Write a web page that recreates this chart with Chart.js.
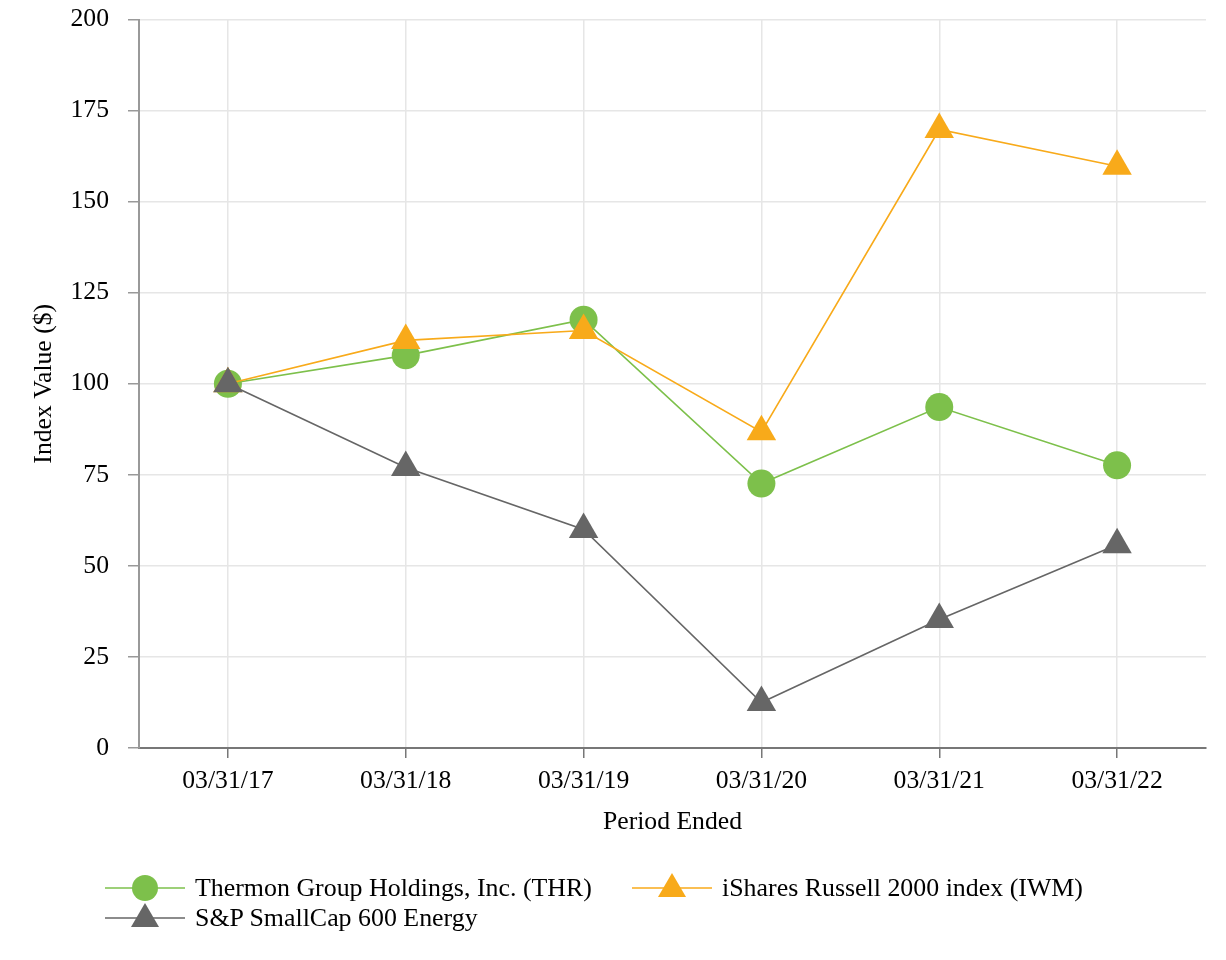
<!DOCTYPE html>
<html>
<head>
<meta charset="utf-8">
<script src="https://cdn.jsdelivr.net/npm/chart.js@4/dist/chart.umd.min.js"></script>
<style>
  html, body { margin:0; padding:0; background:#fff; }
  #wrap { position:relative; width:1226px; height:960px; }
  #c { position:absolute; left:0; top:0; }
  .leg { position:absolute; display:flex; align-items:center; font-family:"Liberation Serif","Times New Roman",serif; font-size:25.9px; color:#000; white-space:nowrap; }
  .leg svg { margin-right:10px; }
</style>
</head>
<body>
<div id="wrap">
  <canvas id="c" width="1226" height="960"></canvas>
</div>
<script>
const categories = ['03/31/17', '03/31/18', '03/31/19', '03/31/20', '03/31/21', '03/31/22'];
const thrValues = [100, 107.8, 117.6, 72.6, 93.6, 77.6];
const iwmValues = [100, 111.9, 114.6, 86.8, 169.8, 159.7];
const energyValues = [100, 77, 60, 12.5, 35.3, 55.8];
const seriesNames = ['Thermon Group Holdings, Inc. (THR)', 'iShares Russell 2000 index (IWM)', 'S&P SmallCap 600 Energy'];
const yTicks = [0, 25, 50, 75, 100, 125, 150, 175, 200];

const GREEN = '#7dc04b', ORANGE = '#f8aa1a', GRAY = '#666666';
const FONT = { family: '"Liberation Serif", "Times New Roman", serif', size: 25.7 };

new Chart(document.getElementById('c'), {
  type: 'line',
  data: {
    labels: categories,
    datasets: [
      { label: seriesNames[0], data: thrValues, borderColor: GREEN, backgroundColor: GREEN, borderWidth: 1.6,
        pointStyle: 'circle', pointRadius: 14, pointBorderWidth: 0, pointBackgroundColor: GREEN, order: 2, tension: 0 },
      { label: seriesNames[1], data: iwmValues, borderColor: ORANGE, backgroundColor: ORANGE, borderWidth: 1.6,
        pointStyle: 'triangle', pointRadius: 17, pointBorderWidth: 0, pointBackgroundColor: ORANGE, order: 1, tension: 0 },
      { label: seriesNames[2], data: energyValues, borderColor: GRAY, backgroundColor: GRAY, borderWidth: 1.6,
        pointStyle: 'triangle', pointRadius: 17, pointBorderWidth: 0, pointBackgroundColor: GRAY, order: 0, tension: 0 }
    ]
  },
  options: {
    responsive: false,
    animation: false,
    devicePixelRatio: 1,
    layout: { padding: { left: 0, top: 19.5, right: 20, bottom: 122.6 } },
    plugins: { legend: { display: false }, tooltip: { enabled: false } },
    scales: {
      x: {
        offset: true,
        grid: { offset: false, color: '#e6e6e6', lineWidth: 1.5, tickColor: '#777', tickLength: 10 },
        border: { color: '#777', width: 2 },
        ticks: { font: FONT, color: '#000', padding: 7.6, maxRotation: 0, autoSkip: false },
        title: { display: true, text: 'Period Ended', font: FONT, color: '#000', padding: 0 },
        afterFit(s) { s.height = 89.4; s.paddingLeft = 0; s.paddingRight = 0; }
      },
      y: {
        min: 0, max: 200,
        afterBuildTicks(s) { s.ticks = yTicks.map(v => ({ value: v })); },
        grid: { color: '#e6e6e6', lineWidth: 1.5, tickColor: '#999', tickLength: 11 },
        border: { color: '#999', width: 2 },
        ticks: { font: FONT, color: '#000', padding: 19 },
        title: { display: true, text: 'Index Value ($)', font: FONT, color: '#000', padding: { top: 28.6, bottom: 0 } },
        afterFit(s) { s.width = 139; s.paddingTop = 0; s.paddingBottom = 0; }
      }
    }
  }
});

// HTML legend
const legendItems = [
  { name: seriesNames[0], color: GREEN, shape: 'circle', left: 105, top: 888 },
  { name: seriesNames[1], color: ORANGE, shape: 'triangle', left: 632, top: 888 },
  { name: seriesNames[2], color: GRAY, shape: 'triangle', left: 105, top: 918 }
];
const wrap = document.getElementById('wrap');
legendItems.forEach(it => {
  const d = document.createElement('div');
  d.className = 'leg';
  d.style.left = it.left + 'px';
  d.style.top = (it.top - 15) + 'px';
  d.style.height = '30px';
  const marker = it.shape === 'circle'
    ? `<circle cx="40" cy="15" r="13" fill="${it.color}"/>`
    : `<polygon points="40,0 54,24 26,24" fill="${it.color}"/>`;
  d.innerHTML = `<svg width="80" height="30" viewBox="0 0 80 30"><line x1="0" y1="15" x2="80" y2="15" stroke="${it.color}" stroke-width="1.6"/>${marker}</svg><span>${it.name.replace('&','&amp;')}</span>`;
  wrap.appendChild(d);
});
</script>
</body>
</html>
